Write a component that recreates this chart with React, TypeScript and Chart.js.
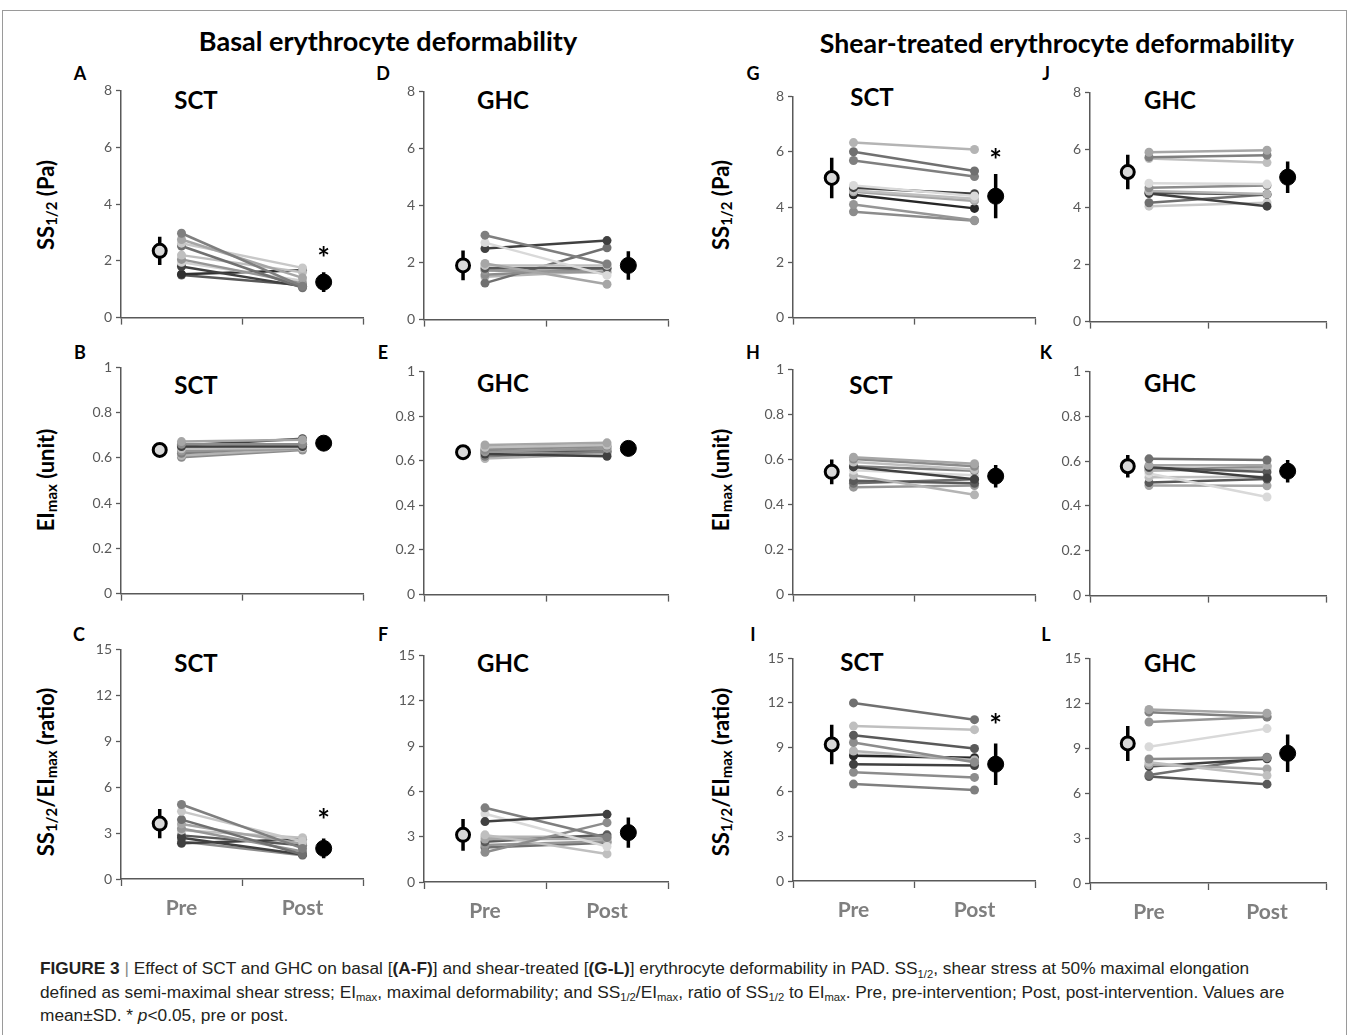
import React, { useEffect, useRef } from 'react';
import { Chart, registerables } from 'chart.js';
Chart.register(...registerables);

// ---------- category positions on the linear x axis ----------
const X_PRE = 1;
const X_POST = 3;
const X_MEAN_PRE = 0.64;
const X_MEAN_POST = 3.35;
const X_TICKS = [0, 1, 2, 3, 4];
const X_LABELS = ['', 'Pre', '', 'Post', ''];

// ---------- data (individual subjects, pre -> post) ----------
// Row 1: SS1/2 (Pa)
const A_pre = [2.97, 2.75, 2.62, 2.52, 2.2, 2.05, 1.95, 1.8, 1.53, 1.5];
const A_post = [1.1, 1.4, 1.75, 1.05, 1.6, 1.2, 1.3, 1.1, 1.67, 1.15];
const A_mean = [2.35, 1.25];
const A_sd = [0.5, 0.35];

const D_pre = [2.96, 2.7, 2.49, 1.97, 1.9, 1.8, 1.72, 1.57, 1.28, 1.5];
const D_post = [1.95, 1.55, 2.77, 1.24, 1.9, 1.8, 1.65, 1.8, 2.52, 1.7];
const D_mean = [1.9, 1.9];
const D_sd = [0.52, 0.5];

const G_pre = [6.33, 6.0, 5.68, 4.78, 4.7, 4.6, 4.55, 4.44, 4.09, 3.83];
const G_post = [6.08, 5.3, 5.1, 4.4, 4.48, 4.3, 4.22, 3.95, 3.52, 3.5];
const G_mean = [5.05, 4.39];
const G_sd = [0.73, 0.8];

const J_pre = [5.91, 5.74, 5.69, 4.83, 4.67, 4.56, 4.47, 4.5, 4.15, 4.03];
const J_post = [5.98, 5.81, 5.55, 4.8, 4.75, 4.45, 4.03, 4.44, 4.44, 4.15];
const J_mean = [5.22, 5.04];
const J_sd = [0.6, 0.55];

// Row 2: EImax (unit)
const B_pre = [0.672, 0.66, 0.65, 0.64, 0.63, 0.62, 0.655, 0.61, 0.603, 0.645];
const B_post = [0.68, 0.66, 0.65, 0.645, 0.64, 0.65, 0.685, 0.64, 0.635, 0.66];
const B_mean = [0.635, 0.665];
const B_sd = [0.012, 0.012];

const E_pre = [0.67, 0.66, 0.65, 0.64, 0.63, 0.62, 0.61, 0.655, 0.645, 0.635];
const E_post = [0.68, 0.67, 0.665, 0.655, 0.62, 0.64, 0.63, 0.66, 0.64, 0.65];
const E_mean = [0.638, 0.655];
const E_sd = [0.012, 0.012];

const H_pre = [0.61, 0.602, 0.589, 0.567, 0.57, 0.552, 0.53, 0.506, 0.494, 0.477];
const H_post = [0.581, 0.57, 0.555, 0.512, 0.55, 0.53, 0.443, 0.494, 0.512, 0.484];
const H_mean = [0.545, 0.526];
const H_sd = [0.055, 0.05];

const K_pre = [0.61, 0.581, 0.575, 0.571, 0.557, 0.545, 0.528, 0.504, 0.491, 0.56];
const K_post = [0.605, 0.581, 0.525, 0.551, 0.565, 0.44, 0.53, 0.52, 0.49, 0.575];
const K_mean = [0.577, 0.555];
const K_sd = [0.05, 0.05];

// Row 3: SS1/2/EImax (ratio)
const C_pre = [4.87, 4.42, 3.88, 3.6, 3.3, 3.19, 2.7, 2.33, 2.45, 2.85];
const C_post = [2.0, 2.45, 1.6, 2.3, 1.8, 2.7, 1.6, 2.59, 1.55, 2.2];
const C_mean = [3.62, 2.0];
const C_sd = [0.95, 0.65];

const F_pre = [4.0, 4.91, 4.52, 1.97, 3.12, 2.84, 2.66, 2.45, 2.99, 2.29];
const F_post = [4.48, 2.95, 2.35, 3.93, 1.86, 2.84, 3.12, 2.7, 2.99, 2.6];
const F_mean = [3.12, 3.27];
const F_sd = [1.05, 1.0];

const I_pre = [12.0, 10.44, 9.82, 9.33, 8.76, 8.44, 7.87, 7.33, 6.53, 8.6];
const I_post = [10.87, 10.2, 8.93, 8.0, 8.16, 8.31, 7.78, 6.98, 6.13, 8.1];
const I_mean = [9.2, 7.87];
const I_sd = [1.33, 1.4];

const L_pre = [11.59, 11.41, 10.75, 9.1, 8.28, 8.06, 7.89, 7.78, 7.22, 7.11];
const L_post = [11.34, 11.08, 11.1, 10.31, 8.37, 7.18, 7.62, 8.3, 8.4, 6.6];
const L_mean = [9.32, 8.66];
const L_sd = [1.17, 1.25];

// significance markers (y value of asterisk), null = none
const A_star = 2.3;
const G_star = 5.9;
const C_star = 4.2;
const I_star = 10.9;

// ---------- styles ----------
const SHADES: Record<string, string[]> = {
  A: ['#7f7f7f', '#a6a6a6', '#c8c8c8', '#707070', '#bfbfbf', '#969696', '#d0d0d0', '#404040', '#303030', '#595959'],
  D: ['#7f7f7f', '#d9d9d9', '#404040', '#a6a6a6', '#bfbfbf', '#595959', '#969696', '#8c8c8c', '#707070', '#b4b4b4'],
  G: ['#b4b4b4', '#707070', '#7f7f7f', '#d9d9d9', '#404040', '#bfbfbf', '#a6a6a6', '#262626', '#969696', '#8c8c8c'],
  J: ['#a6a6a6', '#7f7f7f', '#bfbfbf', '#d9d9d9', '#8c8c8c', '#b4b4b4', '#404040', '#595959', '#707070', '#c8c8c8'],
  B: ['#a6a6a6', '#8c8c8c', '#404040', '#bfbfbf', '#969696', '#7f7f7f', '#404040', '#b4b4b4', '#8c8c8c', '#595959'],
  E: ['#a6a6a6', '#bfbfbf', '#8c8c8c', '#969696', '#404040', '#7f7f7f', '#b4b4b4', '#d0d0d0', '#595959', '#a6a6a6'],
  H: ['#a6a6a6', '#8c8c8c', '#bfbfbf', '#404040', '#7f7f7f', '#d9d9d9', '#b4b4b4', '#595959', '#707070', '#969696'],
  K: ['#707070', '#a6a6a6', '#404040', '#595959', '#b4b4b4', '#d9d9d9', '#bfbfbf', '#595959', '#a6a6a6', '#8c8c8c'],
  C: ['#7f7f7f', '#c8c8c8', '#707070', '#a6a6a6', '#969696', '#bfbfbf', '#404040', '#404040', '#8c8c8c', '#595959'],
  F: ['#404040', '#7f7f7f', '#d9d9d9', '#8c8c8c', '#bfbfbf', '#a6a6a6', '#595959', '#969696', '#b4b4b4', '#707070'],
  I: ['#707070', '#bfbfbf', '#595959', '#8c8c8c', '#b4b4b4', '#262626', '#404040', '#8c8c8c', '#7f7f7f', '#d9d9d9'],
  L: ['#a6a6a6', '#7f7f7f', '#969696', '#d9d9d9', '#8c8c8c', '#bfbfbf', '#a6a6a6', '#404040', '#707070', '#595959'],
};

const AXIS = '#595959';
const FONT = 'Lato, "Open Sans", "DejaVu Sans", sans-serif';
const Y_AXIS_W = 45;
const PAD_TOP = 10;
const PAD_RIGHT = 10;

type PanelDef = {
  id: string;
  pre: number[];
  post: number[];
  mean: number[];
  sd: number[];
  star: number | null;
  yMax: number;
  yStep: number;
  left: number;
  right: number;
  top: number;
  bottom: number;
  xLabels: boolean;
};

const COLS = [
  { left: 121, right: 363 },
  { left: 424, right: 668 },
  { left: 793, right: 1035 },
  { left: 1090, right: 1326 },
];

const PANELS: PanelDef[] = [
  { id: 'A', pre: A_pre, post: A_post, mean: A_mean, sd: A_sd, star: A_star, yMax: 8, yStep: 2, ...COLS[0], top: 88, bottom: 320, xLabels: false },
  { id: 'D', pre: D_pre, post: D_post, mean: D_mean, sd: D_sd, star: null, yMax: 8, yStep: 2, ...COLS[1], top: 89, bottom: 322, xLabels: false },
  { id: 'G', pre: G_pre, post: G_post, mean: G_mean, sd: G_sd, star: G_star, yMax: 8, yStep: 2, ...COLS[2], top: 94, bottom: 320, xLabels: false },
  { id: 'J', pre: J_pre, post: J_post, mean: J_mean, sd: J_sd, star: null, yMax: 8, yStep: 2, ...COLS[3], top: 90, bottom: 324, xLabels: false },
  { id: 'B', pre: B_pre, post: B_post, mean: B_mean, sd: B_sd, star: null, yMax: 1, yStep: 0.2, ...COLS[0], top: 365, bottom: 596, xLabels: false },
  { id: 'E', pre: E_pre, post: E_post, mean: E_mean, sd: E_sd, star: null, yMax: 1, yStep: 0.2, ...COLS[1], top: 369, bottom: 597, xLabels: false },
  { id: 'H', pre: H_pre, post: H_post, mean: H_mean, sd: H_sd, star: null, yMax: 1, yStep: 0.2, ...COLS[2], top: 367, bottom: 597, xLabels: false },
  { id: 'K', pre: K_pre, post: K_post, mean: K_mean, sd: K_sd, star: null, yMax: 1, yStep: 0.2, ...COLS[3], top: 369, bottom: 598, xLabels: false },
  { id: 'C', pre: C_pre, post: C_post, mean: C_mean, sd: C_sd, star: C_star, yMax: 15, yStep: 3, ...COLS[0], top: 647, bottom: 879, xLabels: true },
  { id: 'F', pre: F_pre, post: F_post, mean: F_mean, sd: F_sd, star: null, yMax: 15, yStep: 3, ...COLS[1], top: 653, bottom: 882, xLabels: true },
  { id: 'I', pre: I_pre, post: I_post, mean: I_mean, sd: I_sd, star: I_star, yMax: 15, yStep: 3, ...COLS[2], top: 656, bottom: 881, xLabels: true },
  { id: 'L', pre: L_pre, post: L_post, mean: L_mean, sd: L_sd, star: null, yMax: 15, yStep: 3, ...COLS[3], top: 656, bottom: 883, xLabels: true },
];

const starPlugin = {
  id: 'starPlugin',
  afterDatasetsDraw(chart: any) {
    const star = chart.options.plugins.starPlugin?.value;
    if (star == null) return;
    const { ctx, scales } = chart;
    const x = scales.x.getPixelForValue(X_MEAN_POST);
    const y = scales.y.getPixelForValue(star);
    ctx.save();
    ctx.fillStyle = '#000';
    ctx.font = 'bold 30px ' + FONT;
    ctx.textAlign = 'center';
    ctx.textBaseline = 'middle';
    ctx.fillText('*', x, y + 7);
    ctx.restore();
  },
};

function Panel({ p }: { p: PanelDef }) {
  const ref = useRef<HTMLCanvasElement | null>(null);
  const xAxisH = p.xLabels ? 48 : 10;
  const width = p.right - p.left + Y_AXIS_W + PAD_RIGHT;
  const height = p.bottom - p.top + PAD_TOP + xAxisH;

  useEffect(() => {
    if (!ref.current) return;
    const shades = SHADES[p.id];
    const datasets: any[] = [];
    datasets.push({
      type: 'scatter',
      data: [{ x: X_MEAN_PRE, y: p.mean[0] }],
      pointRadius: 6.5,
      pointBackgroundColor: '#d9d9d9',
      pointBorderColor: '#000',
      pointBorderWidth: 3,
    });
    datasets.push({
      type: 'scatter',
      data: [{ x: X_MEAN_POST, y: p.mean[1] }],
      pointRadius: 8,
      pointBackgroundColor: '#000',
      pointBorderColor: '#000',
      pointBorderWidth: 1,
    });
    [0, 1].forEach((k) => {
      const xv = k === 0 ? X_MEAN_PRE : X_MEAN_POST;
      datasets.push({
        type: 'line',
        data: [
          { x: xv, y: p.mean[k] - p.sd[k] },
          { x: xv, y: p.mean[k] + p.sd[k] },
        ],
        borderColor: '#000',
        borderWidth: 3.5,
        pointRadius: 0,
      });
    });
    p.pre.forEach((v, i) => {
      const c = shades[i % shades.length];
      datasets.push({
        type: 'line',
        data: [
          { x: X_PRE, y: v },
          { x: X_POST, y: p.post[i] },
        ],
        borderColor: c,
        backgroundColor: c,
        pointBackgroundColor: c,
        pointBorderColor: c,
        borderWidth: 2.5,
        pointRadius: 4.5,
        pointBorderWidth: 0,
      });
    });

    const chart = new Chart(ref.current, {
      type: 'scatter',
      data: { datasets },
      plugins: [starPlugin],
      options: {
        animation: false,
        responsive: false,
        events: [],
        layout: { padding: { top: PAD_TOP, right: PAD_RIGHT, left: 0, bottom: 0 } },
        plugins: {
          legend: { display: false },
          tooltip: { enabled: false },
          // @ts-ignore
          starPlugin: { value: p.star },
        },
        scales: {
          x: {
            type: 'linear',
            min: 0,
            max: 4,
            afterBuildTicks: (scale: any) => {
              scale.ticks = X_TICKS.map((v) => ({ value: v }));
            },
            afterFit: (scale: any) => {
              scale.height = xAxisH;
            },
            ticks: {
              autoSkip: false,
              maxRotation: 0,
              padding: 10,
              color: '#7f7f7f',
              font: { family: FONT, size: 21, weight: 'bold' },
              callback: (v: any) => (p.xLabels ? X_LABELS[X_TICKS.indexOf(Number(v))] ?? '' : ''),
            },
            grid: {
              drawOnChartArea: false,
              drawTicks: true,
              tickLength: 7,
              tickWidth: 1.3,
              tickColor: (ctx: any) =>
                ctx.tick && (ctx.tick.value === 1 || ctx.tick.value === 3) ? 'rgba(0,0,0,0)' : AXIS,
            },
            border: { display: true, color: AXIS, width: 1.5 },
          },
          y: {
            min: 0,
            max: p.yMax,
            afterFit: (scale: any) => {
              scale.width = Y_AXIS_W;
            },
            ticks: {
              stepSize: p.yStep,
              color: AXIS,
              padding: 4,
              font: { family: FONT, size: 14 },
              callback: (v: any) => String(Number(Number(v).toFixed(2))),
            },
            grid: {
              drawOnChartArea: false,
              drawTicks: true,
              tickLength: 5,
              tickWidth: 1.3,
              tickColor: AXIS,
            },
            border: { display: true, color: AXIS, width: 1.5 },
          },
        },
      } as any,
    });
    return () => chart.destroy();
  }, []);

  return (
    <canvas
      ref={ref}
      width={width}
      height={height}
      style={{
        position: 'absolute',
        left: p.left - Y_AXIS_W,
        top: p.top - PAD_TOP,
        width,
        height,
      }}
    />
  );
}

const BOLD = 'Lato, "Open Sans", "DejaVu Sans", sans-serif';

function Txt({ x, y, size, children, rotate, color }: any) {
  return (
    <div
      style={{
        position: 'absolute',
        left: x,
        top: y,
        transform: `translate(-50%, -50%)${rotate ? ' rotate(-90deg)' : ''}`,
        fontFamily: BOLD,
        fontWeight: 'bold',
        fontSize: size,
        color: color || '#000',
        whiteSpace: 'nowrap',
        lineHeight: 1,
      }}
    >
      {children}
    </div>
  );
}

const SUB: React.CSSProperties = { fontSize: '0.68em', verticalAlign: '-0.25em' };
const CSUB: React.CSSProperties = { fontSize: '0.65em', position: 'relative', top: '0.35em', lineHeight: 0 };

const LETTERS = [
  ['A', 80, 73], ['D', 383, 73], ['G', 753, 73], ['J', 1046, 73],
  ['B', 80, 352], ['E', 383, 352], ['H', 753, 352], ['K', 1046, 352],
  ['C', 79, 634], ['F', 383, 634], ['I', 753, 634], ['L', 1046, 634],
] as const;

const TITLES = [
  ['SCT', 196, 100], ['GHC', 503, 100], ['SCT', 872, 97], ['GHC', 1170, 100],
  ['SCT', 196, 385], ['GHC', 503, 383], ['SCT', 871, 385], ['GHC', 1170, 383],
  ['SCT', 196, 663], ['GHC', 503, 663], ['SCT', 862, 662], ['GHC', 1170, 663],
] as const;

export default function App() {
  const ssLabel = (
    <span>
      SS<span style={SUB}>1/2</span> (Pa)
    </span>
  );
  const eiLabel = (
    <span>
      EI<span style={SUB}>max</span> (unit)
    </span>
  );
  const ratioLabel = (
    <span>
      SS<span style={SUB}>1/2</span>/EI<span style={SUB}>max</span> (ratio)
    </span>
  );
  const capFont = '"Liberation Sans", Arial, sans-serif';
  return (
    <div style={{ position: 'absolute', left: 0, top: 0, width: 1355, height: 1035, background: '#fff', overflow: 'hidden' }}>
      <div style={{ position: 'absolute', left: 2, top: 10, width: 1343, height: 1040, border: '1px solid #9a9a9a' }} />
      <Txt x={388} y={40} size={27}>Basal erythrocyte deformability</Txt>
      <Txt x={1057} y={43} size={26.7}>Shear-treated erythrocyte deformability</Txt>
      {LETTERS.map(([t, x, y]) => (
        <Txt key={t} x={x} y={y} size={18}>{t}</Txt>
      ))}
      {TITLES.map(([t, x, y], i) => (
        <Txt key={i} x={x} y={y} size={24}>{t}</Txt>
      ))}
      <Txt x={47} y={205} size={22} rotate>{ssLabel}</Txt>
      <Txt x={47} y={480} size={22} rotate>{eiLabel}</Txt>
      <Txt x={47} y={772} size={22} rotate>{ratioLabel}</Txt>
      <Txt x={722} y={205} size={22} rotate>{ssLabel}</Txt>
      <Txt x={722} y={480} size={22} rotate>{eiLabel}</Txt>
      <Txt x={722} y={772} size={22} rotate>{ratioLabel}</Txt>
      {PANELS.map((p) => (
        <Panel key={p.id} p={p} />
      ))}
      <div
        style={{
          position: 'absolute',
          left: 40,
          top: 957,
          fontFamily: capFont,
          fontSize: 17.3,
          lineHeight: '23.5px',
          color: '#231f20',
          whiteSpace: 'nowrap',
        }}
      >
        <div>
          <b>FIGURE 3</b> <span style={{ color: '#888' }}>|</span> Effect of SCT and GHC on basal [<b>(A-F)</b>] and shear-treated [<b>(G-L)</b>] erythrocyte deformability in PAD. SS
          <span style={CSUB}>1/2</span>, shear stress at 50% maximal elongation
        </div>
        <div>
          defined as semi-maximal shear stress; EI<span style={CSUB}>max</span>, maximal deformability; and SS<span style={CSUB}>1/2</span>/EI
          <span style={CSUB}>max</span>, ratio of SS<span style={CSUB}>1/2</span> to EI<span style={CSUB}>max</span>. Pre, pre-intervention; Post, post-intervention. Values are
        </div>
        <div>
          mean±SD. * <i>p</i>&lt;0.05, pre or post.
        </div>
      </div>
    </div>
  );
}
